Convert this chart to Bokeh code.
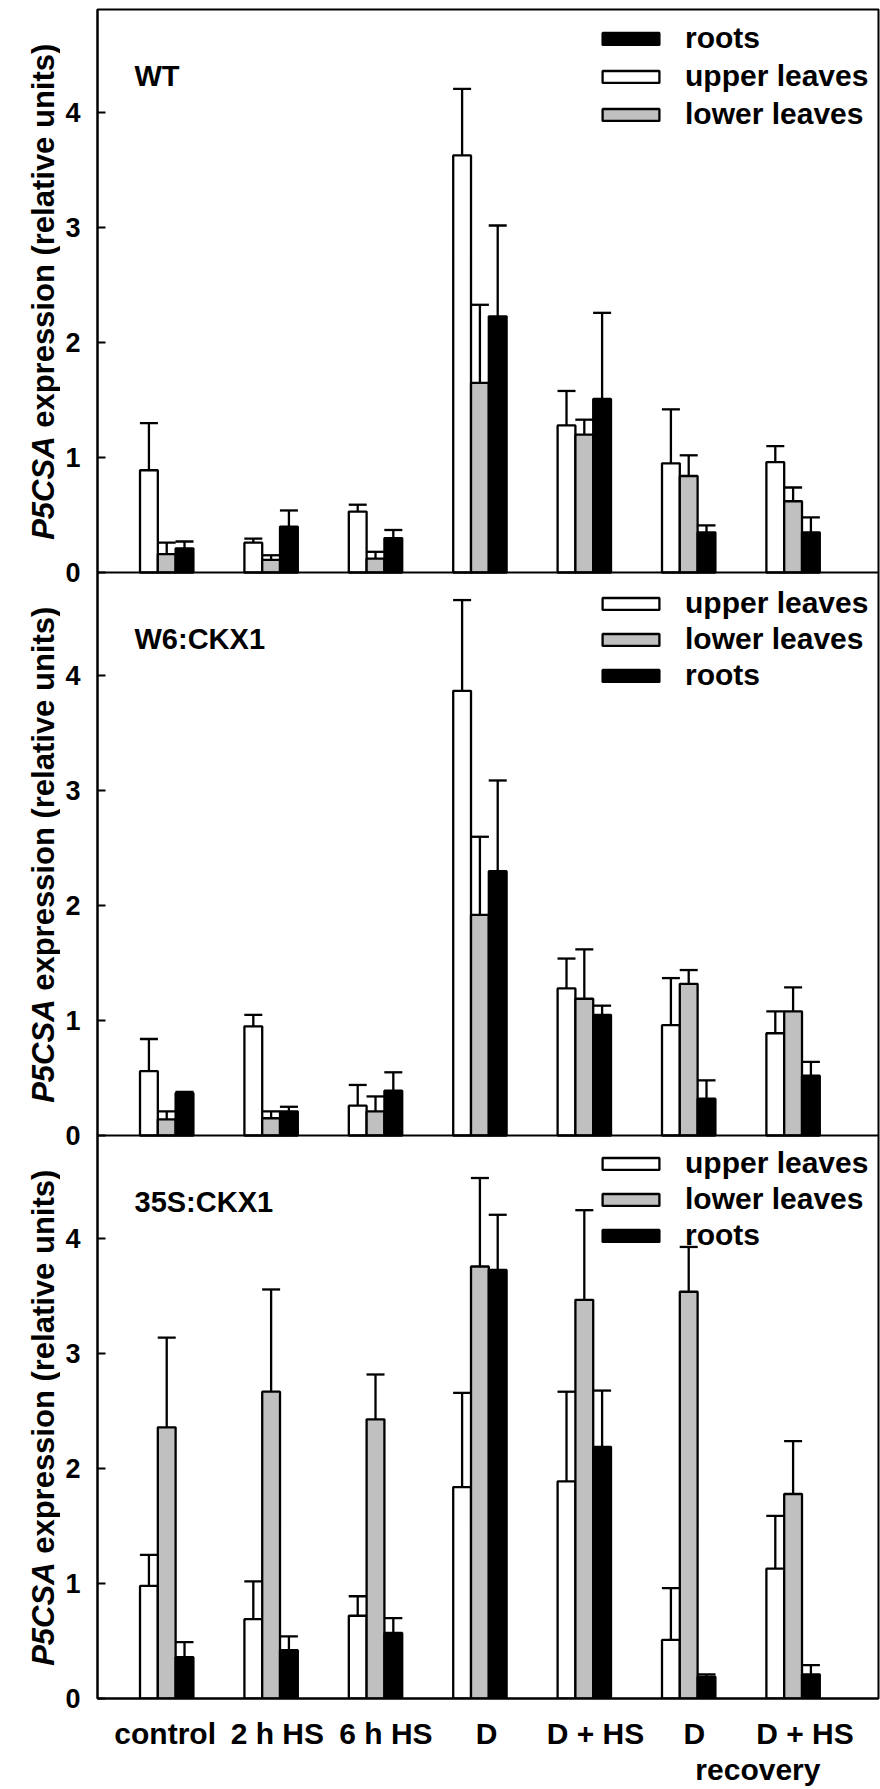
import math
from bokeh.plotting import figure
from bokeh.layouts import row
from bokeh.models import (ColumnDataSource, Whisker, TeeHead, Legend, LegendItem,
                          Label, Span, FixedTicker, Range1d, LinearAxis)
from bokeh.embed import file_html
from bokeh.resources import INLINE

# ---------------- data ----------------
groups = ["control", "2 h HS", "6 h HS", "D", "D + HS", "D", "D + HS"]
sub_label = "recovery"
panels = ["WT", "W6:CKX1", "35S:CKX1"]
series = ["upper leaves", "lower leaves", "roots"]

wt_upper = [0.89, 0.26, 0.53, 3.63, 1.28, 0.95, 0.96]
wt_upper_err = [0.41, 0.035, 0.06, 0.58, 0.30, 0.47, 0.14]
wt_lower = [0.16, 0.11, 0.12, 1.65, 1.20, 0.84, 0.62]
wt_lower_err = [0.10, 0.04, 0.06, 0.68, 0.13, 0.18, 0.12]
wt_roots = [0.21, 0.40, 0.30, 2.23, 1.51, 0.35, 0.35]
wt_roots_err = [0.06, 0.14, 0.07, 0.79, 0.75, 0.06, 0.13]

w6_upper = [0.56, 0.95, 0.26, 3.87, 1.28, 0.96, 0.89]
w6_upper_err = [0.28, 0.10, 0.18, 0.79, 0.26, 0.41, 0.19]
w6_lower = [0.14, 0.15, 0.21, 1.92, 1.19, 1.32, 1.08]
w6_lower_err = [0.07, 0.06, 0.13, 0.68, 0.43, 0.12, 0.21]
w6_roots = [0.37, 0.21, 0.39, 2.30, 1.05, 0.32, 0.52]
w6_roots_err = [0.01, 0.04, 0.16, 0.79, 0.08, 0.16, 0.12]

s35_upper = [0.98, 0.69, 0.72, 1.84, 1.89, 0.51, 1.13]
s35_upper_err = [0.27, 0.33, 0.17, 0.82, 0.78, 0.45, 0.46]
s35_lower = [2.36, 2.67, 2.43, 3.76, 3.47, 3.54, 1.78]
s35_lower_err = [0.78, 0.89, 0.39, 0.77, 0.78, 0.39, 0.46]
s35_roots = [0.36, 0.42, 0.57, 3.73, 2.19, 0.19, 0.21]
s35_roots_err = [0.13, 0.12, 0.13, 0.48, 0.49, 0.02, 0.08]

y_ticks = [0, 1, 2, 3, 4]
label_nudge = [-0.015, 0.06, 0.10, 0.065, 0.107, 0.054, 0.113]
sub_label_pos = 5.663

panel_data = [
    (wt_upper, wt_upper_err, wt_lower, wt_lower_err, wt_roots, wt_roots_err),
    (w6_upper, w6_upper_err, w6_lower, w6_lower_err, w6_roots, w6_roots_err),
    (s35_upper, s35_upper_err, s35_lower, s35_lower_err, s35_roots, s35_roots_err),
]
legend_orders = [["roots", "upper leaves", "lower leaves"],
                 ["upper leaves", "lower leaves", "roots"],
                 ["upper leaves", "lower leaves", "roots"]]

# ---------------- styling ----------------
FONT = "Liberation Sans"
SPAN = 4.9
fills = {"upper leaves": "white", "lower leaves": "#C0C0C0", "roots": "black"}
BW = 0.1705
shift = {"upper leaves": -BW, "lower leaves": 0.0, "roots": BW}
LW = 2.3

y_range = Range1d(0, 3 * SPAN)

p = figure(frame_width=781, frame_height=1689,
           min_border_left=37, min_border_right=2, min_border_top=9, min_border_bottom=91,
           x_range=Range1d(-0.663, 6.818), y_range=y_range,
           output_backend="svg", toolbar_location=None)
p.xgrid.visible = False
p.ygrid.visible = False
p.outline_line_color = "black"
p.outline_line_width = 2
p.background_fill_color = "white"

# left strip holding the y-axis titles
lf = figure(frame_width=60, frame_height=1689,
            min_border_left=0, min_border_right=0, min_border_top=9, min_border_bottom=91,
            x_range=Range1d(0, 60), y_range=y_range,
            x_axis_location=None, y_axis_location=None,
            output_backend="svg", toolbar_location=None)
lf.outline_line_color = None
lf.xgrid.visible = False
lf.ygrid.visible = False

legend_y = [1567, 1006, 446]
legend_spacing = [4, 2, 2]

for k, (name, d) in enumerate(zip(panels, panel_data)):
    off = (2 - k) * SPAN
    vals = {"upper leaves": (d[0], d[1]), "lower leaves": (d[2], d[3]), "roots": (d[4], d[5])}
    rends = {}
    for s in series:
        v, e = vals[s]
        src = ColumnDataSource(dict(
            x=[i + shift[s] for i in range(len(groups))],
            bottom=[off] * len(v),
            top=[off + vv for vv in v],
            upper=[off + vv + ee for vv, ee in zip(v, e)],
        ))
        r = p.vbar(x="x", bottom="bottom", top="top", width=BW, source=src,
                   fill_color=fills[s], line_color="black", line_width=LW)
        rends[s] = r
        wh = Whisker(source=src, base="x", lower="top", upper="upper", dimension="height",
                     line_width=LW, line_color="black", level="annotation",
                     upper_head=TeeHead(size=18, line_width=LW, line_color="black"),
                     lower_head=None)
        p.add_layout(wh)
    items = [LegendItem(label=s, renderers=[rends[s]]) for s in legend_orders[k]]
    lg = Legend(items=items, location=(498, legend_y[k]), orientation="vertical",
                glyph_width=71, glyph_height=15, label_standoff=19,
                spacing=legend_spacing[k], padding=0, margin=0,
                border_line_color=None, background_fill_alpha=0,
                label_text_font=FONT, label_text_font_size="30px",
                label_text_font_style="bold", label_text_color="black", label_height=32)
    p.add_layout(lg)
    # panel title
    p.add_layout(Label(x=37, x_units="screen", y=off + SPAN - 0.575, y_units="data",
                       text=name, text_font=FONT, text_font_size="29px",
                       text_font_style="bold", text_color="black",
                       text_baseline="alphabetic"))
    # y axis title (italic gene name + rest)
    cy = off + SPAN / 2
    lf.add_layout(Label(x=43.3, x_units="screen", y=cy - 1.266, y_units="data",
                        angle=math.pi / 2, text="P5CSA", text_font=FONT,
                        text_font_size="31px", text_font_style="bold italic",
                        text_color="black", text_align="right", text_baseline="alphabetic"))
    lf.add_layout(Label(x=43.3, x_units="screen", y=cy - 1.191, y_units="data",
                        angle=math.pi / 2, text="expression (relative units)", text_font=FONT,
                        text_font_size="31px", text_font_style="bold", text_color="black",
                        text_align="left", text_baseline="alphabetic"))
    if k > 0:
        p.add_layout(Span(location=off + SPAN, dimension="width", line_color="black",
                          line_width=2))

# y axis
yt = []
yover = {}
for k in range(3):
    off = (2 - k) * SPAN
    for t in y_ticks:
        pos = round(off + t, 3)
        yt.append(pos)
        yover[pos] = str(t)
p.yaxis.ticker = FixedTicker(ticks=yt)
p.yaxis.major_label_overrides = yover
p.yaxis.major_tick_in = 8
p.yaxis.major_tick_out = 0
p.yaxis.minor_tick_line_color = None
p.yaxis.axis_line_width = 2
p.yaxis.major_tick_line_width = 2
p.yaxis.major_label_standoff = 17
p.yaxis.major_label_text_font = FONT
p.yaxis.major_label_text_font_size = "27px"
p.yaxis.major_label_text_font_style = "bold"
p.yaxis.major_label_text_color = "black"

# x axis
xt = [round(i + n, 3) for i, n in enumerate(label_nudge)]
xa = p.xaxis[0]
xa.ticker = FixedTicker(ticks=xt)
xa.major_label_overrides = {t: g for t, g in zip(xt, groups)}
xa.major_tick_line_color = None
xa.minor_tick_line_color = None
xa.major_tick_out = 0
xa.major_tick_in = 0
xa.axis_line_width = 2
xa.major_label_standoff = 18
xa.major_label_text_font = FONT
xa.major_label_text_font_size = "30px"
xa.major_label_text_font_style = "bold"
xa.major_label_text_color = "black"

# second row of category text ("recovery")
xa2 = LinearAxis(ticker=FixedTicker(ticks=[sub_label_pos]),
                 major_label_overrides={sub_label_pos: sub_label},
                 axis_line_color=None, major_tick_line_color=None,
                 minor_tick_line_color=None, major_tick_out=0, major_tick_in=0,
                 major_label_standoff=0, major_label_text_font=FONT,
                 major_label_text_font_size="30px", major_label_text_font_style="bold",
                 major_label_text_color="black")
p.add_layout(xa2, "below")

layout = row(lf, p)
open("out.html", "w").write(file_html(layout, INLINE))
